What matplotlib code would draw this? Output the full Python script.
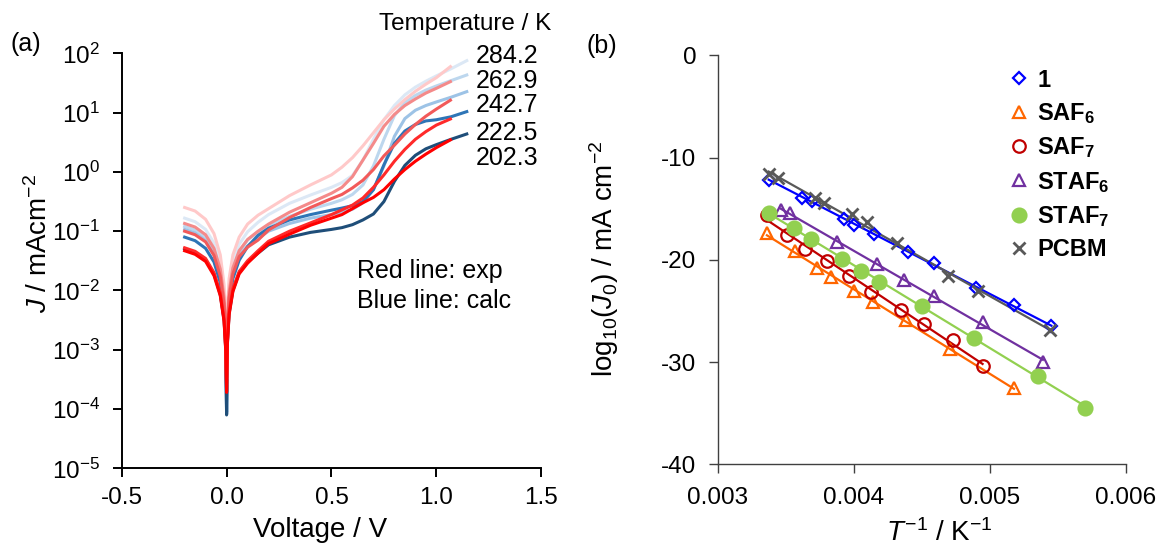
import numpy as np
import matplotlib
matplotlib.use("Agg")
import matplotlib.pyplot as plt
from matplotlib.ticker import LogLocator, LogFormatterSciNotation, NullLocator, MultipleLocator, FormatStrFormatter

plt.rcParams["font.family"] = ["Liberation Sans", "DejaVu Sans"]
plt.rcParams["mathtext.fontset"] = "custom"
plt.rcParams["mathtext.rm"] = "Liberation Sans"
plt.rcParams["mathtext.it"] = "Liberation Sans:italic"
plt.rcParams["mathtext.bf"] = "Liberation Sans:bold"
plt.rcParams["axes.unicode_minus"] = False

# ---- panel (a): J-V curves, log10(J / mA cm-2) ----
TEMPS = ["284.2", "262.9", "242.7", "222.5", "202.3"]

V_EXP = [-0.2, -0.15, -0.1, -0.06, -0.03, -0.012, -0.004, 0.0, 0.004, 0.012, 0.03, 0.06, 0.1,
         0.15, 0.2, 0.3, 0.4, 0.5, 0.55, 0.6, 0.65, 0.7, 0.75, 0.8, 0.85, 0.9, 0.95, 1.0, 1.067]
V_CALC = [-0.2, -0.15, -0.1, -0.06, -0.03, -0.012, -0.004, 0.0, 0.004, 0.012, 0.03, 0.06, 0.1,
          0.15, 0.2, 0.3, 0.4, 0.5, 0.55, 0.6, 0.65, 0.7, 0.75, 0.8, 0.85, 0.9, 0.95, 1.0, 1.07, 1.145]

LOGJ_EXP = {
    "284.2": [-0.60, -0.66, -0.80, -1.04, -1.40, -1.90, -2.45, -3.50, -2.30, -1.80, -1.40, -1.10, -0.88,
              -0.73, -0.62, -0.40, -0.22, -0.05, 0.08, 0.24, 0.44, 0.66, 0.88, 1.06, 1.22, 1.36, 1.48, 1.59, 1.776],
    "262.9": [-0.87, -0.93, -1.06, -1.29, -1.64, -2.12, -2.65, -3.60, -2.50, -2.02, -1.62, -1.33, -1.14,
              -1.00, -0.88, -0.68, -0.52, -0.36, -0.26, -0.08, 0.20, 0.48, 0.77, 0.97, 1.12, 1.23, 1.33, 1.41, 1.523],
    "242.7": [-1.00, -1.06, -1.18, -1.41, -1.76, -2.22, -2.75, -3.65, -2.60, -2.12, -1.72, -1.43, -1.27,
              -1.15, -0.98, -0.77, -0.60, -0.45, -0.38, -0.27, -0.14, 0.04, 0.27, 0.45, 0.64, 0.80, 0.94, 1.06, 1.21],
    "222.5": [-1.28, -1.34, -1.46, -1.70, -2.04, -2.48, -2.98, -3.70, -2.85, -2.36, -1.97, -1.68, -1.50,
              -1.33, -1.17, -1.00, -0.86, -0.72, -0.64, -0.56, -0.44, -0.26, -0.05, 0.18, 0.38, 0.55, 0.68, 0.79, 0.893],
    "202.3": [-1.33, -1.39, -1.51, -1.75, -2.09, -2.52, -3.02, -3.72, -2.90, -2.41, -2.02, -1.72, -1.54,
              -1.37, -1.21, -1.05, -0.90, -0.78, -0.72, -0.62, -0.52, -0.43, -0.30, -0.12, 0.04, 0.18, 0.30, 0.41, 0.54],
}
LOGJ_CALC = {
    "284.2": [-0.78, -0.84, -0.97, -1.20, -1.56, -2.05, -2.60, -4.00, -2.40, -1.92, -1.52, -1.22, -1.01,
              -0.85, -0.72, -0.53, -0.39, -0.26, -0.18, -0.06, 0.20, 0.55, 0.88, 1.12, 1.30, 1.43, 1.53, 1.62, 1.74, 1.877],
    "262.9": [-0.92, -0.98, -1.11, -1.34, -1.70, -2.18, -2.70, -4.05, -2.55, -2.06, -1.65, -1.35, -1.15,
              -1.01, -0.90, -0.75, -0.63, -0.53, -0.47, -0.38, -0.22, 0.10, 0.55, 0.95, 1.17, 1.29, 1.38, 1.45, 1.54, 1.635],
    "242.7": [-0.97, -1.03, -1.16, -1.39, -1.74, -2.20, -2.72, -4.05, -2.60, -2.11, -1.70, -1.41, -1.25,
              -1.12, -1.00, -0.87, -0.78, -0.72, -0.68, -0.63, -0.52, -0.30, 0.10, 0.60, 0.90, 1.04, 1.12, 1.18, 1.26, 1.354],
    "222.5": [-1.10, -1.16, -1.29, -1.52, -1.87, -2.32, -2.85, -4.08, -2.70, -2.21, -1.80, -1.49, -1.26,
              -1.07, -0.95, -0.81, -0.72, -0.645, -0.61, -0.57, -0.50, -0.30, 0.12, 0.48, 0.69, 0.80, 0.86, 0.88, 0.93, 1.017],
    "202.3": [-1.30, -1.36, -1.48, -1.72, -2.07, -2.50, -3.00, -4.10, -2.88, -2.39, -2.00, -1.70, -1.52,
              -1.37, -1.23, -1.10, -1.02, -0.97, -0.94, -0.89, -0.81, -0.71, -0.50, -0.16, 0.11, 0.28, 0.39, 0.46, 0.55, 0.64],
}
EXP_COLORS = {"284.2": "#FFC9C9", "262.9": "#F48A8A", "242.7": "#F25A5A", "222.5": "#FF2A2A", "202.3": "#FF0000"}
CALC_COLORS = {"284.2": "#DCE8F5", "262.9": "#BDD7EE", "242.7": "#9DC3E6", "222.5": "#2E75B6", "202.3": "#1F4E79"}

# ---- panel (b): Arrhenius plot ----
X_1 = [0.003373, 0.003619, 0.003695, 0.003924, 0.004000, 0.004144, 0.004395, 0.004586, 0.004899, 0.005177, 0.005452]
Y_1 = [-12.15, -13.90, -14.20, -15.97, -16.55, -17.50, -19.20, -20.30, -22.70, -24.45, -26.50]
X_SAF6 = [0.003360, 0.003564, 0.003728, 0.003831, 0.004000, 0.004142, 0.004381, 0.004703, 0.005177]
Y_SAF6 = [-17.41, -19.12, -20.74, -21.70, -23.00, -24.10, -25.89, -28.74, -32.51]
X_SAF7 = [0.003360, 0.003510, 0.003638, 0.003804, 0.003965, 0.004123, 0.004349, 0.004518, 0.004728, 0.004946]
Y_SAF7 = [-15.59, -17.51, -18.88, -20.09, -21.60, -23.14, -24.86, -26.23, -27.81, -30.39]
X_STAF6 = [0.003460, 0.003531, 0.003877, 0.004169, 0.004368, 0.004586, 0.004946, 0.005390]
Y_STAF6 = [-15.11, -15.45, -18.20, -20.39, -21.97, -23.52, -26.09, -30.01]
X_STAF7 = [0.003373, 0.003556, 0.003687, 0.003913, 0.004054, 0.004185, 0.004504, 0.004886, 0.005357, 0.005703]
Y_STAF7 = [-15.42, -16.89, -17.92, -19.88, -21.12, -22.11, -24.52, -27.61, -31.31, -34.51]
X_PCBM = [0.003373, 0.003441, 0.003714, 0.003782, 0.003986, 0.004095, 0.004313, 0.004695, 0.004913, 0.005444]
Y_PCBM = [-11.64, -12.02, -13.98, -14.42, -15.52, -16.27, -18.37, -21.53, -23.07, -26.85]

SERIES = [
    {"label": "1", "x": X_1, "y": Y_1, "marker": "D", "color": "#0000FF", "ms": 6.5, "fill": False},
    {"label": "SAF$_\\mathbf{6}$", "x": X_SAF6, "y": Y_SAF6, "marker": "^", "color": "#FF6600", "ms": 9, "fill": False},
    {"label": "SAF$_\\mathbf{7}$", "x": X_SAF7, "y": Y_SAF7, "marker": "o", "color": "#C00000", "ms": 9, "fill": False},
    {"label": "STAF$_\\mathbf{6}$", "x": X_STAF6, "y": Y_STAF6, "marker": "^", "color": "#7030A0", "ms": 9, "fill": False},
    {"label": "STAF$_\\mathbf{7}$", "x": X_STAF7, "y": Y_STAF7, "marker": "o", "color": "#92D050", "ms": 10, "fill": True},
    {"label": "PCBM", "x": X_PCBM, "y": Y_PCBM, "marker": "x", "color": "#595959", "ms": 9, "fill": True},
]


def style_axes(ax, color, lw):
    for side in ("top", "right"):
        ax.spines[side].set_visible(False)
    for side in ("left", "bottom"):
        ax.spines[side].set_color(color)
        ax.spines[side].set_linewidth(lw)
    ax.tick_params(which="major", direction="out", length=6.5, width=lw, color=color, labelsize=17.5)


def plot_jv(fig):
    ax = fig.add_axes([0.105, 0.1485, 0.362, 0.7545])
    for temp in TEMPS:
        ax.plot(V_CALC, 10 ** np.array(LOGJ_CALC[temp]), color=CALC_COLORS[temp], lw=2.2)
    for temp in TEMPS:
        ax.plot(V_EXP, 10 ** np.array(LOGJ_EXP[temp]), color=EXP_COLORS[temp], lw=2.2)
    ax.set_yscale("log")
    ax.set_xlim(-0.5, 1.5)
    ax.set_ylim(1e-5, 1e2)
    ax.xaxis.set_major_locator(MultipleLocator(0.5))
    ax.xaxis.set_major_formatter(FormatStrFormatter("%.1f"))
    ax.yaxis.set_major_locator(LogLocator(base=10, numticks=10))
    ax.yaxis.set_major_formatter(LogFormatterSciNotation())
    ax.yaxis.set_minor_locator(NullLocator())
    style_axes(ax, "black", 1.4)
    ax.tick_params(axis="x", pad=7)
    ax.tick_params(axis="y", pad=9)
    ax.set_xlabel("Voltage / V", fontsize=20)
    ax.set_ylabel("$\\mathit{J}$ / mAcm$^{-2}$", fontsize=20)
    ax.xaxis.set_label_coords(0.473, -0.117)
    ax.yaxis.set_label_coords(-0.163, 0.541)

    label_y = [0.993, 0.934, 0.875, 0.809, 0.748]
    for temp, y in zip(TEMPS, label_y):
        ax.text(0.844, y, temp, transform=ax.transAxes, fontsize=18, va="center", ha="left")
    ax.text(0.5606, 0.4755, "Red line: exp", transform=ax.transAxes, fontsize=18, va="center")
    ax.text(0.5606, 0.4037, "Blue line: calc", transform=ax.transAxes, fontsize=18, va="center")
    fig.text(0.4754, 0.9565, "Temperature / K", fontsize=17.5, ha="right", va="center")
    fig.text(0.0223, 0.920, "(a)", fontsize=18, ha="center", va="center")


def plot_arrhenius(fig):
    ax = fig.add_axes([0.6195, 0.1556, 0.3519, 0.7435])
    for s in SERIES:
        slope, intercept = np.polyfit(s["x"], s["y"], 1)
        xs = np.array([min(s["x"]), max(s["x"])])
        ax.plot(xs, slope * xs + intercept, color=s["color"], lw=1.6, zorder=2)
    handles = []
    for s in SERIES:
        face = s["color"] if s["fill"] else "none"
        h, = ax.plot(s["x"], s["y"], linestyle="none", marker=s["marker"], ms=s["ms"],
                     mfc=face, mec=s["color"], mew=2 if s["marker"] == "x" else 1.6,
                     label=s["label"], zorder=3)
        handles.append(h)
    ax.set_xlim(0.003, 0.006)
    ax.set_ylim(-40, 0)
    ax.xaxis.set_major_locator(MultipleLocator(0.001))
    ax.xaxis.set_major_formatter(FormatStrFormatter("%.3f"))
    ax.yaxis.set_major_locator(MultipleLocator(10))
    style_axes(ax, "#404040", 1.0)
    ax.tick_params(axis="x", pad=10)
    ax.tick_params(axis="y", pad=9)
    ax.set_xlabel("$\\mathit{T}^{-1}$ / K$^{-1}$", fontsize=20)
    ax.set_ylabel("log$_{10}$($\\mathit{J}_0$) / mA cm$^{-2}$", fontsize=20)
    ax.xaxis.set_label_coords(0.542, -0.135)
    ax.yaxis.set_label_coords(-0.239, 0.503)
    ax.legend(handles=handles, loc="upper left", bbox_to_anchor=(0.716, 0.968), frameon=False,
              prop={"weight": "bold", "size": 17}, handlelength=0.8, handletextpad=0.35,
              labelspacing=0.4, borderpad=0, borderaxespad=0)
    fig.text(0.5194, 0.917, "(b)", fontsize=18, ha="center", va="center")


def main():
    fig = plt.figure(figsize=(11.59, 5.5), dpi=100)
    plot_jv(fig)
    plot_arrhenius(fig)
    fig.savefig("out.png", dpi=100)
    plt.close(fig)


if __name__ == "__main__":
    main()
